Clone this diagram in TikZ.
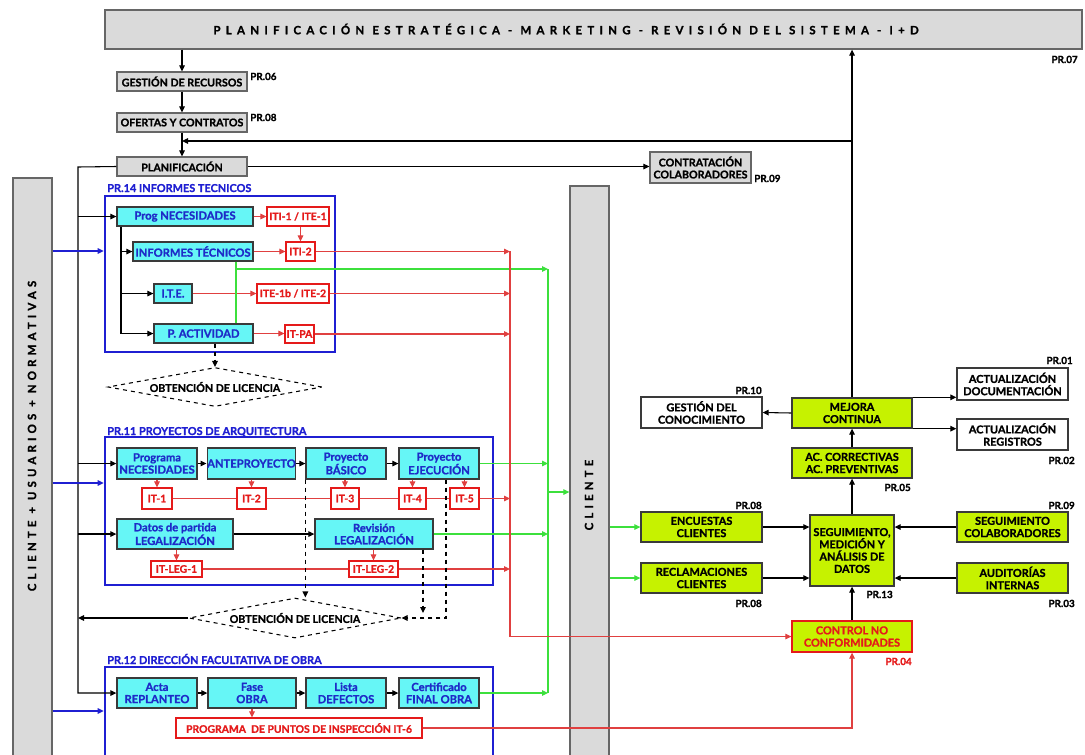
\documentclass[tikz,border=0pt]{standalone}
\usepackage{fontspec}
\setmainfont{Lato}[BoldFeatures={FakeBold=1.2}]
\newfontfamily\trackfont[LetterSpace=46,BoldFeatures={FakeBold=1.2}]{Lato}
\newfontfamily\barfont[LetterSpace=36,BoldFeatures={FakeBold=1.2}]{Lato}
\usetikzlibrary{arrows.meta,shapes.geometric}

\definecolor{cyanfill}{HTML}{66F6F6}
\definecolor{bluetext}{HTML}{1E2BC8}
\definecolor{framec}{HTML}{1F1FD2}
\definecolor{limefill}{HTML}{C6F200}
\definecolor{redc}{HTML}{E51A1A}
\definecolor{redline}{HTML}{E04040}
\definecolor{greenc}{HTML}{3CE03C}
\definecolor{grayfill}{HTML}{DADADA}
\definecolor{grayedge}{HTML}{666666}
\definecolor{edge}{HTML}{3A3A3A}

% box placed by its corner coordinates (in px units of the picture)
\newcommand\boxat[7]{\node[#1, minimum width={(#5-#3)*0.75pt}, minimum height={(#6-#4)*0.75pt}] (#2) at ({(#3+#5)/2},{(#4+#6)/2}) {#7};}

\begin{document}
\begin{tikzpicture}[x=0.75pt,y=-0.75pt,
  >={Triangle[length=4.5pt,width=4.2pt]},
  box/.style={draw=edge, line width=1pt, inner sep=0pt, align=center,
    font={\fontsize{8}{9}\selectfont\bfseries}},
  gbox/.style={box, fill=grayfill, draw=grayedge},
  cbox/.style={box, fill=cyanfill, text=bluetext, font={\fontsize{8.4}{9.2}\selectfont\bfseries}},
  lbox/.style={box, fill=limefill, font={\fontsize{8.2}{9.2}\selectfont\bfseries}},
  wbox/.style={box, fill=white, font={\fontsize{8.2}{9.2}\selectfont\bfseries}},
  rbox/.style={box, fill=white, draw=redc, text=redc, line width=0.9pt, font={\fontsize{7.8}{8.6}\selectfont\bfseries}},
  nbox/.style={box, fill=limefill, draw=redc, text=redc, font={\fontsize{8.2}{9.2}\selectfont\bfseries}},
  frame/.style={draw=framec, line width=2pt, inner sep=0pt},
  prlab/.style={font={\fontsize{7.4}{8}\selectfont\bfseries}, inner sep=0pt},
  framelab/.style={text=framec, font={\fontsize{8.2}{9}\selectfont\bfseries}, inner sep=0pt, anchor=base west},
  spaced/.style={font={\trackfont\fontsize{8.6}{9}\selectfont\bfseries}, inner sep=0pt},
  barlab/.style={font={\barfont\fontsize{8.6}{9}\selectfont\bfseries}, inner sep=0pt},
  conn/.style={->, line width=0.8pt},
  plain/.style={line width=0.8pt},
  redl/.style={->, draw=redline, line width=0.8pt},
  redp/.style={draw=redline, line width=0.8pt},
  grnl/.style={->, draw=greenc, line width=0.8pt},
  grnp/.style={draw=greenc, line width=0.8pt},
  bll/.style={->, draw=framec, line width=0.8pt},
  dia/.style={shape=diamond, draw, dashed, aspect=5.5, inner sep=0pt, line width=0.8pt,
    font={\fontsize{8}{9}\selectfont\bfseries}},
]
\useasboundingbox (0,0) rectangle (1085,754);
\clip (0,0) rectangle (1085,754);

% ---------- top of the process map ----------
\boxat{gbox}{top}{105}{10}{1082}{49}{}
\node[spaced] (toptxt) at (566,29) {PLANIFICACIÓN ESTRATÉGICA - MARKETING - REVISIÓN DEL SISTEMA - I+D};
\node[prlab, anchor=base east] (pr07) at (1078,63) {PR.07};

\boxat{gbox}{gr}{117}{72}{247}{91}{GESTIÓN DE RECURSOS}
\node[prlab, anchor=base west] (pr06) at (250,80) {PR.06};
\boxat{gbox}{of}{117}{113}{247}{132}{OFERTAS Y CONTRATOS}
\node[prlab, anchor=base west] (pr08a) at (250,121) {PR.08};
\boxat{gbox}{pl}{117}{157}{247}{176}{PLANIFICACIÓN}
\boxat{gbox}{cc}{650}{152}{751}{183}{CONTRATACIÓN\\COLABORADORES}
\node[prlab, anchor=base west] (pr09a) at (754,182) {PR.09};

% ---------- side bars ----------
\boxat{gbox}{clbar}{13}{178}{52}{780}{}
\node[barlab, rotate=90] (clbartxt) at (32,436) {CLIENTE + USUARIOS + NORMATIVAS};
\boxat{gbox}{cli}{570}{186}{609}{780}{}
\node[barlab, rotate=90] (clitxt) at (589,495) {CLIENTE};

% ---------- PR.14 ----------
\boxat{frame}{f14}{105}{196}{335}{352}{}
\node[framelab] (l14) at (107,192) {PR.14 INFORMES TECNICOS};
\boxat{cbox}{pn}{117}{207}{253}{226}{Prog NECESIDADES}
\boxat{rbox}{it11}{267}{207}{329}{226}{ITI-1 / ITE-1}
\boxat{cbox}{inf}{133}{242}{253}{261}{INFORMES TÉCNICOS}
\boxat{rbox}{iti2}{286}{242}{315}{261}{ITI-2}
\boxat{cbox}{ite}{154}{284}{192}{303}{I.T.E.}
\boxat{rbox}{ite1b}{257}{284}{329}{303}{ITE-1b / ITE-2}
\boxat{cbox}{pa}{154}{324}{253}{343}{P. ACTIVIDAD}
\boxat{rbox}{itpa}{285}{325}{314}{343}{IT-PA}
\node[dia, minimum width={214*0.75pt}, minimum height={39*0.75pt}] (d1) at (215,387) {OBTENCIÓN DE LICENCIA};

% ---------- PR.11 ----------
\boxat{frame}{f11}{105}{437}{493}{585}{}
\node[framelab] (l11) at (107,435) {PR.11 PROYECTOS DE ARQUITECTURA};
\boxat{cbox}{p1}{117}{448}{197}{479}{Programa\\NECESIDADES}
\boxat{cbox}{p2}{208}{448}{295}{479}{ANTEPROYECTO}
\boxat{cbox}{p3}{306}{448}{386}{479}{Proyecto\\BÁSICO}
\boxat{cbox}{p4}{399}{448}{479}{479}{Proyecto\\EJECUCIÓN}
\boxat{rbox}{i1}{142}{488}{172}{509}{IT-1}
\boxat{rbox}{i2}{237}{488}{266}{509}{IT-2}
\boxat{rbox}{i3}{331}{488}{359}{509}{IT-3}
\boxat{rbox}{i4}{399}{488}{426}{509}{IT-4}
\boxat{rbox}{i5}{450}{488}{479}{509}{IT-5}
\boxat{cbox}{dl}{117}{519}{233}{549}{Datos de partida\\LEGALIZACIÓN}
\boxat{cbox}{rl}{315}{519}{433}{549}{Revisión\\LEGALIZACIÓN}
\boxat{rbox}{ileg1}{151}{561}{202}{577}{IT-LEG-1}
\boxat{rbox}{ileg2}{349}{561}{398}{577}{IT-LEG-2}
\node[dia, minimum width={212*0.75pt}, minimum height={40*0.75pt}] (d2) at (295,618) {OBTENCIÓN DE LICENCIA};

% ---------- PR.12 ----------
\boxat{frame}{f12}{105}{667}{493}{780}{}
\node[framelab] (l12) at (107,664) {PR.12 DIRECCIÓN FACULTATIVA DE OBRA};
\boxat{cbox}{a1}{117}{678}{197}{708}{Acta\\REPLANTEO}
\boxat{cbox}{a2}{208}{678}{296}{708}{Fase\\OBRA}
\boxat{cbox}{a3}{306}{678}{386}{708}{Lista\\DEFECTOS}
\boxat{cbox}{a4}{399}{678}{479}{708}{Certificado\\FINAL OBRA}
\boxat{rbox}{ppi}{176}{718}{422}{738}{PROGRAMA \ DE PUNTOS DE INSPECCIÓN IT-6}

% ---------- improvement loop ----------
\boxat{wbox}{gc}{641}{397}{762}{428}{GESTIÓN DEL\\CONOCIMIENTO}
\node[prlab, anchor=base east] (pr10) at (762,394) {PR.10};
\boxat{lbox}{mc}{792}{398}{912}{428}{MEJORA\\CONTINUA}
\boxat{wbox}{ad}{957}{368}{1068}{400}{ACTUALIZACIÓN\\DOCUMENTACIÓN}
\node[prlab, anchor=base east] (pr01) at (1073,364) {PR.01};
\boxat{wbox}{ar}{957}{419}{1068}{450}{ACTUALIZACIÓN\\REGISTROS}
\node[prlab, anchor=base east] (pr02) at (1075,464) {PR.02};
\boxat{lbox}{acp}{792}{448}{912}{478}{AC. CORRECTIVAS\\AC. PREVENTIVAS}
\node[prlab, anchor=base east] (pr05) at (911,491) {PR.05};
\boxat{lbox}{smd}{810}{515}{894}{586}{SEGUIMIENTO,\\MEDICIÓN Y\\ANÁLISIS DE\\DATOS}
\node[prlab, anchor=base east] (pr13) at (893,598) {PR.13};
\boxat{lbox}{enc}{641}{512}{762}{542}{ENCUESTAS\\CLIENTES}
\node[prlab, anchor=base east] (pr08b) at (762,509) {PR.08};
\boxat{lbox}{rec}{641}{563}{762}{593}{RECLAMACIONES\\CLIENTES}
\node[prlab, anchor=base east] (pr08c) at (762,607) {PR.08};
\boxat{lbox}{sco}{957}{512}{1068}{542}{SEGUIMIENTO\\COLABORADORES}
\node[prlab, anchor=base east] (pr09b) at (1075,509) {PR.09};
\boxat{lbox}{aud}{957}{563}{1068}{593}{AUDITORÍAS\\INTERNAS}
\node[prlab, anchor=base east] (pr03) at (1075,607) {PR.03};
\boxat{nbox}{cnc}{792}{621}{912}{652}{CONTROL NO\\CONFORMIDADES}
\node[prlab, text=redc, anchor=base east] (pr04) at (912,665) {PR.04};

% ---------- helper coordinates for shared lines ----------
\coordinate (vt) at (78,167);
\coordinate (trk) at (121,0);
\coordinate (gx) at (236,0);
\coordinate (gv) at (548,269);
\coordinate (rv) at (510,251);
\coordinate (dx2) at (423,0);
\coordinate (dx3) at (446,0);

% ---------- connectors: top chain ----------
\draw[conn] (top.south -| gr.north) -- (gr.north);
\draw[conn] (gr.south) -- (of.north);
\draw[conn] (of.south) -- (pl.north);
\draw[conn] (mc.north) -- (mc.north |- top.south);
\draw[conn] (mc.north |- 0,141) -- (of.south |- 0,141);
\draw[conn] (pl.east) -- (pl.east -| cc.west);

% main left trunk
\draw[conn] (pl.west) -- (vt) -- (vt |- a1.west) -- (a1.west);
\draw[conn] (vt |- pn.west) -- (pn.west);
\draw[conn] (vt |- p1.west) -- (p1.west);
\draw[conn] (vt |- dl.west) -- (dl.west);
\draw[conn] (d2.west) -- (vt |- d2.west);

% inputs from the left bar
\draw[bll] (clbar.east |- 0,251) -- (f14.west |- 0,251);
\draw[bll] (clbar.east |- 0,483) -- (f11.west |- 0,483);
\draw[bll] (clbar.east |- 0,711) -- (f12.west |- 0,711);

% PR.14 inner flow
\draw[plain] (pn.south -| trk) -- (pa.west -| trk);
\draw[conn] (inf.west -| trk) -- (inf.west);
\draw[conn] (ite.west -| trk) -- (ite.west);
\draw[conn] (pa.west -| trk) -- (pa.west);
\draw[redl] (pn.east) -- (it11.west);
\draw[redl] (iti2.north |- it11.south) -- (iti2.north);
\draw[redl] (inf.east) -- (iti2.west);
\draw[redl] (ite.east) -- (ite1b.west);
\draw[redl] (pa.east) -- (pa.east -| itpa.west);
\draw[conn, dashed] (d1.north |- pa.south) -- (d1.north);

% green collector towards the client
\draw[grnp] (inf.south -| gx) -- (pa.north -| gx);
\draw[grnl] (gx |- gv) -- (gv);
\draw[grnp] (gv) -- (gv |- a4.east);
\draw[grnl] (p4.east) -- (p4.east -| gv);
\draw[grnl] (rl.east) -- (rl.east -| gv);
\draw[grnl] (a4.east) -- (a4.east -| gv);
\draw[grnl] (gv |- 0,492) -- (cli.west |- 0,492);

% red collector towards non conformity control
\draw[redl] (iti2.east) -- (iti2.east -| rv);
\draw[redl] (ite1b.east) -- (ite1b.east -| rv);
\draw[redl] (itpa.east) -- (itpa.east -| rv);
\draw[redl] (i5.east) -- (i5.east -| rv);
\draw[redl] (ileg2.east) -- (ileg2.east -| rv);
\draw[redl] (rv) -- (rv |- cnc.west) -- (cnc.west);
\draw[redl] (ppi.east) -- (ppi.east -| cnc.south) -- (cnc.south);

% PR.11 inner flow
\draw[conn] (p1.east) -- (p2.west);
\draw[conn] (p2.east) -- (p3.west);
\draw[conn] (p3.east) -- (p4.west);
\draw[redl] (i1.north |- p1.south) -- (i1.north);
\draw[redl] (i2.north |- p2.south) -- (i2.north);
\draw[redl] (i3.north |- p3.south) -- (i3.north);
\draw[redl] (i4.north |- p4.south) -- (i4.north);
\draw[redl] (i5.north |- p4.south) -- (i5.north);
\draw[redp] (i1.east) -- (i2.west) (i2.east) -- (i3.west) (i3.east) -- (i4.west) (i4.east) -- (i5.west);
\draw[conn] (dl.east) -- (rl.west);
\draw[redl] (ileg1.north |- dl.south) -- (ileg1.north);
\draw[redl] (ileg2.north |- rl.south) -- (ileg2.north);
\draw[redp] (ileg1.east) -- (ileg2.west);
\draw[conn, dashed] (p3.south west) -- (p3.south west |- d2.north);
\draw[conn, dashed] (rl.south -| dx2) -- (dx2 |- 0,613);
\draw[conn, dashed] (p4.south -| dx3) -- (dx3 |- d2.east) -- (d2.east);

% PR.12 inner flow
\draw[conn] (a1.east) -- (a2.west);
\draw[conn] (a2.east) -- (a3.west);
\draw[conn] (a3.east) -- (a4.west);
\draw[redl] (a2.south) -- (a2.south |- ppi.north);

% measurement and improvement
\draw[grnl] (cli.east |- enc.west) -- (enc.west);
\draw[grnl] (cli.east |- rec.west) -- (rec.west);
\draw[conn] (enc.east) -- (enc.east -| smd.west);
\draw[conn] (rec.east) -- (rec.east -| smd.west);
\draw[conn] (sco.west) -- (sco.west -| smd.east);
\draw[conn] (aud.west) -- (aud.west -| smd.east);
\draw[conn] (cnc.north) -- (cnc.north |- smd.south);
\draw[conn] (smd.north) -- (smd.north |- acp.south);
\draw[conn] (acp.north) -- (mc.south);
\draw[conn] (mc.west) -- (gc.east);
\draw[conn] (mc.north east) -- (mc.north east -| ad.west);
\draw[conn] (mc.south east) -- (mc.south east -| ar.west);
\end{tikzpicture}
\end{document}
